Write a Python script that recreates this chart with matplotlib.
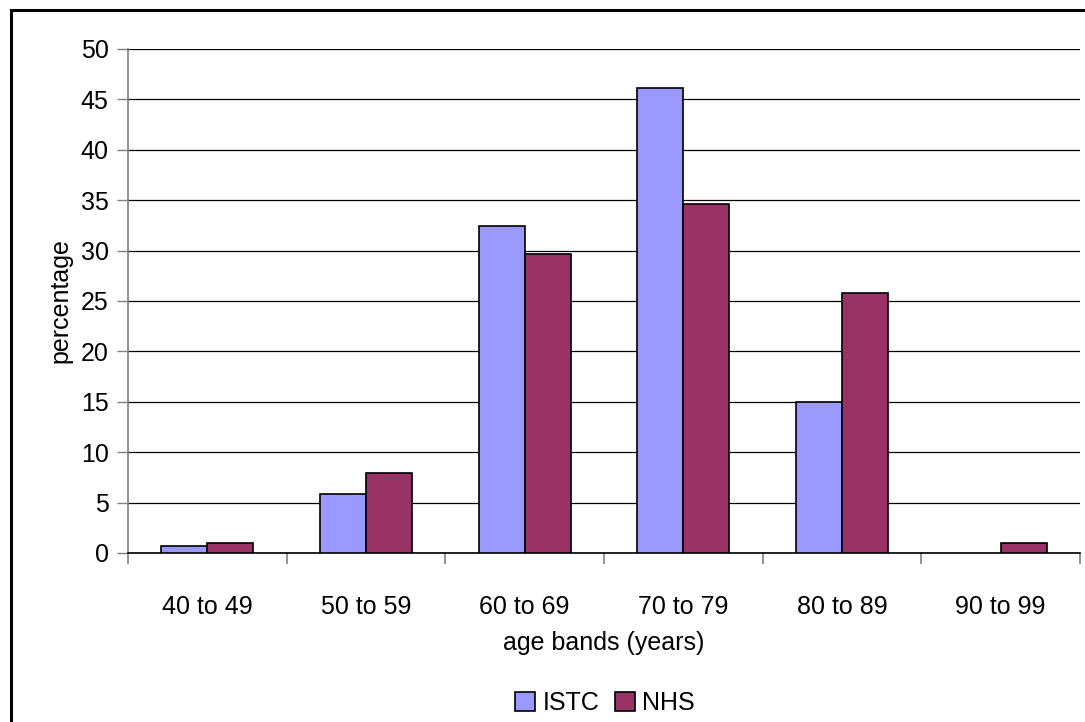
import matplotlib.pyplot as plt
import numpy as np
from matplotlib.patches import Rectangle

plt.rcParams["font.family"] = ["Liberation Sans", "DejaVu Sans"]

age_bands = ["40 to 49", "50 to 59", "60 to 69", "70 to 79", "80 to 89", "90 to 99"]
istc_pct = [0.7, 5.85, 32.45, 46.1, 15.0, 0.0]
nhs_pct = [1.0, 7.9, 29.7, 34.6, 25.8, 1.0]

ISTC_COLOR = "#9999FF"
NHS_COLOR = "#993366"
FS = 18

fig = plt.figure(figsize=(10.85, 7.22), dpi=100)
ax = fig.add_axes([128 / 1085, 1 - 553 / 722, (1080 - 128) / 1085, (553 - 49) / 722])

# outer chart frame (cropped on right and bottom like the original)
fig.patches.append(Rectangle((11 / 1085, -0.1), 1.2, 1 - 9.5 / 722 + 0.1,
                             transform=fig.transFigure, fill=False,
                             edgecolor="black", linewidth=2.2))

x = np.arange(len(age_bands))
bar_w = 0.29
ax.bar(x - bar_w / 2, istc_pct, bar_w, color=ISTC_COLOR, edgecolor="black",
       linewidth=[1.2 if v > 0 else 0 for v in istc_pct], label="ISTC", zorder=3)
ax.bar(x + bar_w / 2, nhs_pct, bar_w, color=NHS_COLOR, edgecolor="black",
       linewidth=[1.2 if v > 0 else 0 for v in nhs_pct], label="NHS", zorder=3)

ax.set_xlim(-0.5, len(age_bands) - 0.5)
ax.set_ylim(0, 50)
ax.set_yticks(np.arange(0, 51, 5))
ax.yaxis.grid(True, color="black", linewidth=0.9)
ax.set_axisbelow(True)

ax.set_xticks(x)
ax.set_xticklabels(age_bands)
ax.set_xticks(np.arange(-0.5, len(age_bands), 1.0), minor=True)
ax.tick_params(axis="x", which="major", length=0, pad=30, labelsize=FS)
ax.tick_params(axis="x", which="minor", length=8, color="gray", width=1.2)
ax.tick_params(axis="y", length=8, color="gray", width=1.0, pad=6, labelsize=FS)

for side in ["top", "right"]:
    ax.spines[side].set_visible(False)
ax.spines["left"].set_color("gray")
ax.spines["left"].set_linewidth(1.2)
ax.spines["bottom"].set_color("black")
ax.spines["bottom"].set_linewidth(1.2)

ax.set_ylabel("percentage", fontsize=FS, labelpad=6)
ax.set_xlabel("age bands (years)", fontsize=FS, labelpad=9)

fig.legend(loc="center", bbox_to_anchor=(605 / 1085, 1 - 703 / 722), ncol=2,
           frameon=False, fontsize=FS, handlelength=0.8, handleheight=0.8,
           handletextpad=0.3, columnspacing=0.6)

fig.savefig("out.png", dpi=100)
